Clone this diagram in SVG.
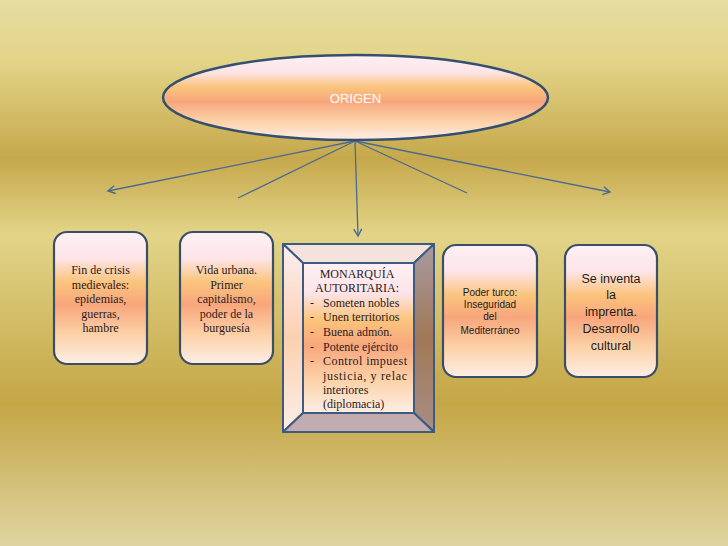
<svg xmlns="http://www.w3.org/2000/svg" width="728" height="546" viewBox="0 0 728 546">
<defs>
<linearGradient id="bg" x1="0" y1="0" x2="0" y2="1">
<stop offset="0" stop-color="#e6dda2"/>
<stop offset="0.11" stop-color="#e3d488"/>
<stop offset="0.29" stop-color="#c6a84c"/>
<stop offset="0.43" stop-color="#e2d488"/>
<stop offset="0.74" stop-color="#c4a645"/>
<stop offset="1" stop-color="#dfd4a0"/>
</linearGradient>
<linearGradient id="fill" x1="0" y1="0" x2="0" y2="1">
<stop offset="0" stop-color="#fdf0f4"/>
<stop offset="0.2" stop-color="#fde4e8"/>
<stop offset="0.38" stop-color="#fbc47c"/>
<stop offset="0.55" stop-color="#f8a67c"/>
<stop offset="0.78" stop-color="#fcd2a8"/>
<stop offset="1" stop-color="#fdeee6"/>
</linearGradient>
<linearGradient id="rside" x1="0" y1="0" x2="0" y2="1">
<stop offset="0" stop-color="#a99aa2"/>
<stop offset="0.5" stop-color="#a07856"/>
<stop offset="1" stop-color="#a88e86"/>
</linearGradient>
<linearGradient id="lside" x1="0" y1="0" x2="0" y2="1">
<stop offset="0" stop-color="#fdeef0"/>
<stop offset="0.5" stop-color="#fbd0b0"/>
<stop offset="1" stop-color="#fdeee8"/>
</linearGradient>
<marker id="arr" markerWidth="10" markerHeight="10" refX="8" refY="5" orient="auto" markerUnits="userSpaceOnUse">
<path d="M1,1 L8,5 L1,9" fill="none" stroke="#4a6a90" stroke-width="1.4"/>
</marker>
<style>
.box{fill:url(#fill);stroke:#3b4e68;stroke-width:2.2}
.ln{stroke:#4a6a90;stroke-width:1.3;fill:none}
.serif{font-family:"Liberation Serif","Times New Roman",serif;font-size:12px;fill:#2a2020}
.sans{font-family:"Liberation Sans",Arial,sans-serif;fill:#1c1c1c}
.bev{stroke:#3d5a80;stroke-width:2;stroke-linejoin:round}
</style>
</defs>
<rect width="728" height="546" fill="url(#bg)"/>
<g id="connectors">
<line class="ln" x1="355" y1="141" x2="108" y2="191" marker-end="url(#arr)"/>
<line class="ln" x1="355" y1="141" x2="238" y2="198"/>
<line class="ln" x1="355" y1="141" x2="358" y2="236" marker-end="url(#arr)"/>
<line class="ln" x1="355" y1="141" x2="467" y2="193"/>
<line class="ln" x1="355" y1="141" x2="610" y2="192" marker-end="url(#arr)"/>
</g>
<g id="origen">
<ellipse cx="355.5" cy="97.5" rx="192.5" ry="42.5" fill="url(#fill)" stroke="#34506e" stroke-width="2.5"/>
<text x="355.5" y="102.5" text-anchor="middle" font-family="Liberation Sans,Arial,sans-serif" font-size="13" fill="#ffffff">ORIGEN</text>
</g>
<g id="fin-crisis">
<rect class="box" x="54" y="232" width="93" height="132" rx="13"/>
<text class="serif" text-anchor="middle"><tspan x="100.5" y="274">Fin de crisis</tspan><tspan x="100.5" y="289">medievales:</tspan><tspan x="100.5" y="303">epidemias,</tspan><tspan x="100.5" y="318">guerras,</tspan><tspan x="100.5" y="332">hambre</tspan></text>
</g>
<g id="vida-urbana">
<rect class="box" x="180" y="232" width="93" height="132" rx="13"/>
<text class="serif" text-anchor="middle"><tspan x="226.5" y="274">Vida urbana.</tspan><tspan x="226.5" y="289">Primer</tspan><tspan x="226.5" y="303">capitalismo,</tspan><tspan x="226.5" y="318">poder de la</tspan><tspan x="226.5" y="332">burguesía</tspan></text>
</g>
<g id="monarquia">
<polygon class="bev" points="283,244 434,244 414,263 303,263" fill="#f4e2dc"/>
<polygon class="bev" points="283,244 303,263 303,413 283,432" fill="url(#lside)"/>
<polygon class="bev" points="434,244 434,432 414,413 414,263" fill="url(#rside)"/>
<polygon class="bev" points="283,432 303,413 414,413 434,432" fill="#c2acb0"/>
<rect class="bev" x="303" y="263" width="111" height="150" fill="url(#fill)"/>
<text class="serif" text-anchor="middle"><tspan x="357" y="278">MONARQUÍA</tspan><tspan x="357" y="292">AUTORITARIA:</tspan></text>
<text class="serif"><tspan x="310" y="307">-</tspan><tspan x="310" y="321">-</tspan><tspan x="310" y="336">-</tspan><tspan x="310" y="351">-</tspan><tspan x="310" y="365">-</tspan></text>
<text class="serif"><tspan x="323" y="307">Someten nobles</tspan><tspan x="323" y="321">Unen territorios</tspan><tspan x="323" y="336">Buena admón.</tspan><tspan x="323" y="351">Potente ejército</tspan></text>
<text class="serif" x="323" y="365" textLength="84" lengthAdjust="spacing">Control impuest</text>
<text class="serif" x="323" y="380" textLength="84" lengthAdjust="spacing">justicia, y relac</text>
<text class="serif"><tspan x="323" y="394">interiores</tspan><tspan x="323" y="408">(diplomacia)</tspan></text>
</g>
<g id="poder-turco">
<rect class="box" x="443" y="245" width="94" height="132" rx="13"/>
<text class="sans" font-size="10" text-anchor="middle"><tspan x="490" y="296">Poder turco:</tspan><tspan x="490" y="308">Inseguridad</tspan><tspan x="490" y="320">del</tspan><tspan x="490" y="334">Mediterráneo</tspan></text>
</g>
<g id="imprenta">
<rect class="box" x="565" y="245" width="92" height="132" rx="13"/>
<text class="sans" font-size="12.5" text-anchor="middle"><tspan x="611" y="283">Se inventa</tspan><tspan x="611" y="299">la</tspan><tspan x="611" y="316">imprenta.</tspan><tspan x="611" y="333">Desarrollo</tspan><tspan x="611" y="350">cultural</tspan></text>
</g>
</svg>
